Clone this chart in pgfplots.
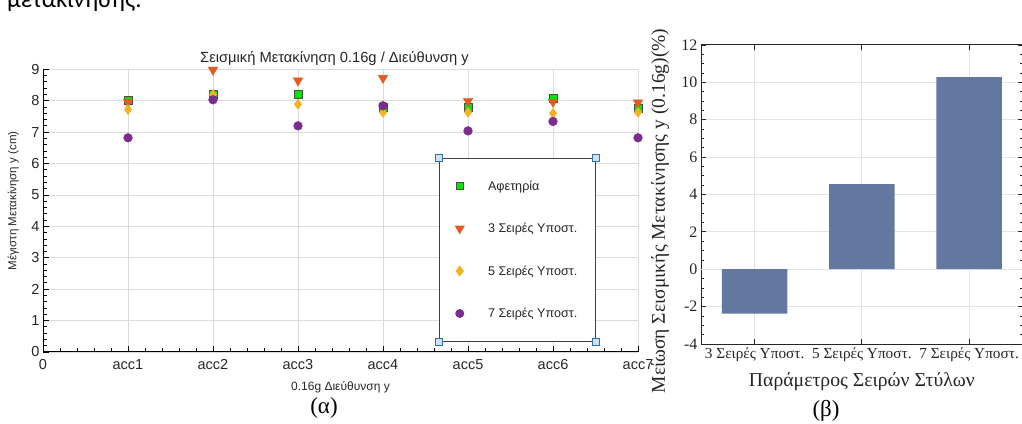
\documentclass[border=0pt]{standalone}
\usepackage{pgfplots}
\pgfplotsset{compat=1.18}
\usepackage{fontspec}
\setmainfont{Liberation Serif}
\newfontfamily\arial{Liberation Sans}
\newfontfamily\carl{Carlito}

\definecolor{cgreen}{RGB}{0,230,0}
\definecolor{corange}{RGB}{228,90,32}
\definecolor{cyellow}{RGB}{243,178,36}
\definecolor{cpurple}{RGB}{123,45,143}
\definecolor{cbar}{RGB}{99,120,160}
\definecolor{handle}{RGB}{50,110,180}
\definecolor{handlefill}{RGB}{205,225,242}

\begin{document}
\begin{tikzpicture}[x=1pt,y=1pt]
\path[use as bounding box] (0,0) rectangle (1022,423);
\node[anchor=base west, inner sep=0pt, font=\carl\fontsize{25}{28}\selectfont] at (7,415) {μετακίνησης.};

\begin{axis}[
  at={(43pt,71pt)}, anchor=south west, scale only axis,
  width=595pt, height=282.7pt,
  xmin=0, xmax=7, ymin=0, ymax=9,
  axis lines*=left,
  axis line style={black, line width=1pt},
  xtick={0,1,2,3,4,5,6,7},
  xticklabels={0,acc1,acc2,acc3,acc4,acc5,acc6,acc7},
  ytick={0,1,2,3,4,5,6,7,8,9},
  minor x tick num=4, minor y tick num=4,
  tick align=inside,
  major tick length=6pt, minor tick length=3.5pt,
  tick style={black, line width=0.8pt},
  grid=major,
  major grid style={gray!28, line width=0.8pt},
  /pgf/number format/assume math mode=true,
  tick label style={font=\arial\fontsize{14.5}{16}\selectfont, text=black!85},
  xticklabel style={yshift=-4pt},
  title={Σεισμική Μετακίνηση 0.16g / Διεύθυνση y},
  title style={at={(axis description cs:0.49,1.0155)}, anchor=center, font=\arial\fontsize{14.7}{16}\selectfont, text=black!85},
  xlabel={0.16g Διεύθυνση y},
  xlabel style={at={(axis description cs:0.5,-0.124)}, anchor=center, font=\arial\fontsize{12}{14}\selectfont, text=black!85},
  ylabel={Μέγιστη Μετακίνηση y (cm)},
  ylabel style={at={(axis description cs:-0.05,0.534)}, anchor=center, font=\arial\fontsize{11.5}{13}\selectfont, text=black!85},
  legend cell align=left,
  legend style={name=leg, at={(axis description cs:0.6655,0.686)}, anchor=north west,
    draw=black!75, line width=0.9pt, fill=white,
    font=\arial\fontsize{12.6}{14}\selectfont, text=black!85,
    row sep=27.5pt, column sep=22pt, inner xsep=16pt, inner ysep=20pt,
    cells={anchor=west}},
  clip=false,
]
\addplot[only marks, mark=square*, mark size=4pt, mark options={fill=cgreen, draw=black!70, line width=0.8pt},
  legend image post style={mark size=3.6pt}]
  coordinates {(1,8.0) (2,8.2) (3,8.2) (4,7.8) (5,7.8) (6,8.07) (7,7.76)};
\addlegendentry{Αφετηρία}
\addplot[only marks, mark=triangle*, mark size=5.5pt, mark options={rotate=180, fill=corange, draw=corange},
  legend image post style={mark size=5pt}]
  coordinates {(1,7.96) (2,8.98) (3,8.64) (4,8.72) (5,7.99) (6,7.96) (7,7.94)};
\addlegendentry{3 Σειρές Υποστ.}
\addplot[only marks, mark=diamond*, mark size=5pt, mark options={fill=cyellow, draw=cyellow},
  legend image post style={mark size=4.8pt}]
  coordinates {(1,7.72) (2,8.2) (3,7.89) (4,7.63) (5,7.63) (6,7.6) (7,7.63)};
\addlegendentry{5 Σειρές Υποστ.}
\addplot[only marks, mark=*, mark size=4.4pt, mark options={fill=cpurple, draw=cpurple},
  legend image post style={mark size=4pt}]
  coordinates {(1,6.82) (2,8.03) (3,7.2) (4,7.84) (5,7.04) (6,7.34) (7,6.82)};
\addlegendentry{7 Σειρές Υποστ.}
\end{axis}

\foreach \c in {north west, north east, south west, south east}{
  \draw[handle, fill=handlefill, line width=0.6pt] ([xshift=-3.5pt,yshift=-3.5pt]leg.\c) rectangle ([xshift=3.5pt,yshift=3.5pt]leg.\c);
}

\node[font=\fontsize{23}{26}\selectfont] at (324,15) {(α)};

\begin{axis}[
  at={(701pt,79pt)}, anchor=south west, scale only axis,
  width=321.7pt, height=299pt,
  xmin=-0.5, xmax=2.5, ymin=-4, ymax=12,
  xtick={0,1,2},
  xticklabels={3 Σειρές Υποστ., 5 Σειρές Υποστ., 7 Σειρές Υποστ.},
  ytick={-4,-2,0,2,4,6,8,10,12},
  yticklabels={-4,-2,0,2,4,6,8,10,12},
  minor y tick num=3,
  tick align=inside,
  major tick length=5pt, minor tick length=3pt,
  tick style={black!85, line width=0.8pt},
  axis line style={black!85, line width=1pt},
  grid=major,
  major grid style={gray!22, line width=1pt},
  extra y ticks={0},
  extra y tick labels={},
  extra y tick style={grid style={gray!85, line width=1.5pt}, major tick length=0pt},
  /pgf/number format/assume math mode=true,
  yticklabel style={font=\fontsize{16}{18}\selectfont, text=black!85},
  xticklabel style={font=\fontsize{15.3}{18}\selectfont, text=black!85},
  xlabel={Παράμετρος Σειρών Στύλων},
  xlabel style={at={(axis description cs:0.5,-0.127)}, anchor=center, font=\fontsize{19.7}{22}\selectfont, text=black!85},
  ylabel={Μείωση Σεισμικής Μετακίνησης y (0.16g)(\%)},
  ylabel style={at={(axis description cs:-0.127,0.445)}, anchor=center, font=\fontsize{19.5}{22}\selectfont, text=black!85},
]
\addplot[ybar, bar width=0.61, fill=cbar, draw=none] coordinates {(0,-2.38) (1,4.55) (2,10.28)};
\end{axis}

\node[font=\fontsize{23}{26}\selectfont] at (826,12) {(β)};
\end{tikzpicture}
\end{document}
